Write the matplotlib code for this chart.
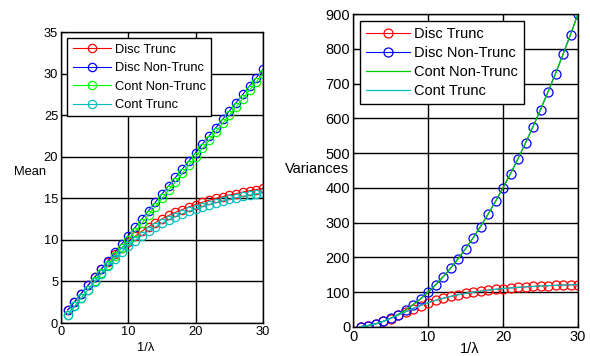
import numpy as np
import matplotlib
matplotlib.use('Agg')
import matplotlib.pyplot as plt

plt.rcParams['font.family'] = ['Liberation Sans', 'DejaVu Sans']

# 1/lambda
x = np.arange(1, 31)

# means
mean_disc_trunc = [1.58, 2.54, 3.53, 4.52, 5.51, 6.46, 7.38, 8.24, 9.04, 9.76,
                   10.43, 11.03, 11.58, 12.07, 12.52, 12.93, 13.31, 13.65, 13.96, 14.25,
                   14.52, 14.76, 14.98, 15.19, 15.39, 15.57, 15.75, 15.90, 16.05, 16.20]
mean_disc_nontrunc = [1.58, 2.54, 3.53, 4.52, 5.52, 6.51, 7.51, 8.51, 9.51, 10.51,
                      11.51, 12.51, 13.51, 14.51, 15.51, 16.51, 17.51, 18.50, 19.50, 20.50,
                      21.50, 22.50, 23.50, 24.50, 25.50, 26.50, 27.50, 28.50, 29.50, 30.50]
mean_cont_nontrunc = [1, 2, 3, 4, 5, 6, 7, 8, 9, 10,
                      11, 12, 13, 14, 15, 16, 17, 18, 19, 20,
                      21, 22, 23, 24, 25, 26, 27, 28, 29, 30]
mean_cont_trunc = [1.00, 2.00, 3.00, 4.00, 4.99, 5.95, 6.87, 7.73, 8.53, 9.25,
                   9.92, 10.52, 11.07, 11.56, 12.01, 12.42, 12.80, 13.14, 13.45, 13.74,
                   14.01, 14.25, 14.47, 14.68, 14.88, 15.06, 15.24, 15.39, 15.54, 15.67]

# variances
var_disc_trunc = [0.92, 3.92, 8.9, 15.9, 24.4, 33.9, 43.6, 53.0, 61.7, 69.5,
                  76.5, 82.6, 87.9, 92.6, 96.6, 100.1, 103.2, 105.9, 108.3, 110.4,
                  112.3, 114.0, 115.4, 116.6, 117.8, 118.9, 119.7, 120.5, 121.2, 121.8]
var_disc_nontrunc = [0.92, 3.92, 8.92, 15.92, 24.92, 35.92, 48.92, 63.92, 80.92, 99.92,
                     120.9, 143.9, 168.9, 195.9, 224.9, 255.9, 288.9, 323.9, 360.9, 399.9,
                     440.9, 483.9, 528.9, 575.9, 624.9, 675.9, 728.9, 783.9, 840.9, 899.9]
var_cont_nontrunc = [1, 4, 9, 16, 25, 36, 49, 64, 81, 100,
                     121, 144, 169, 196, 225, 256, 289, 324, 361, 400,
                     441, 484, 529, 576, 625, 676, 729, 784, 841, 900]
var_cont_trunc = [1.0, 4.0, 9.0, 15.9, 24.5, 34.0, 43.7, 53.1, 61.8, 69.6,
                  76.5, 82.6, 87.9, 92.6, 96.6, 100.1, 103.2, 105.9, 108.3, 110.4,
                  112.3, 114.0, 115.4, 116.6, 117.8, 118.9, 119.7, 120.5, 121.2, 121.8]

labels = ['Disc Trunc', 'Disc Non-Trunc', 'Cont Non-Trunc', 'Cont Trunc']
green = (0, 1, 0)

fig = plt.figure(figsize=(5.9, 3.56), dpi=100)
ax1 = fig.add_axes([61/590, 1 - 323/356, 202/590, 291/356])
ax2 = fig.add_axes([353/590, 1 - 327/356, 225/590, 313/356])

mk = dict(marker='o', mfc='none', ms=6, mew=0.9, lw=0.8)
ax1.plot(x, mean_disc_trunc, color='r', label=labels[0], **mk)
ax1.plot(x, mean_disc_nontrunc, color='b', label=labels[1], **mk)
ax1.plot(x, mean_cont_nontrunc, color=green, label=labels[2], **mk)
ax1.plot(x, mean_cont_trunc, color='c', label=labels[3], **mk)

mk['ms'] = 6.5
ax2.plot(x, var_disc_trunc, color='r', label=labels[0], **mk)
ax2.plot(x, var_disc_nontrunc, color='b', label=labels[1], **mk)
ax2.plot(x, var_cont_nontrunc, color=(0, 0.8, 0), lw=0.9, label=labels[2])
ax2.plot(x, var_cont_trunc, color='c', lw=0.9, label=labels[3])

ax1.set_ylim(0, 35)
ax1.set_yticks(np.arange(0, 36, 5))
ax2.set_ylim(0, 900)
ax2.set_yticks(np.arange(0, 901, 100))

# left panel was drawn a bit smaller than the right one
for ax, fs, ls in ((ax1, 9.3, 0.5), (ax2, 10.5, 0.34)):
    ax.set_xlim(0, 30)
    ax.set_xticks([0, 10, 20, 30])
    ax.grid(True, color='k', lw=1.0)
    ax.tick_params(direction='in', length=3, labelsize=fs, pad=2)
    for s in ax.spines.values():
        s.set_linewidth(1.0)
    ax.set_xlabel('1/\u03bb', fontsize=fs)
    leg = ax.legend(loc='upper left', fontsize=fs, fancybox=False, framealpha=1,
                    edgecolor='k', handlelength=3.0, borderaxespad=0.5,
                    labelspacing=ls, handletextpad=0.3, borderpad=0.4)
    leg.get_frame().set_linewidth(1.0)

ax1.set_ylabel('Mean', rotation=0, fontsize=9.3, va='center')
ax1.yaxis.set_label_coords(-0.155, 0.52)
ax1.xaxis.set_label_coords(0.42, -0.065)
ax2.set_ylabel('Variances', rotation=0, fontsize=10.5, va='center')
ax2.yaxis.set_label_coords(-0.16, 0.505)
ax2.xaxis.set_label_coords(0.52, -0.048)

fig.savefig('out.png', dpi=100)
